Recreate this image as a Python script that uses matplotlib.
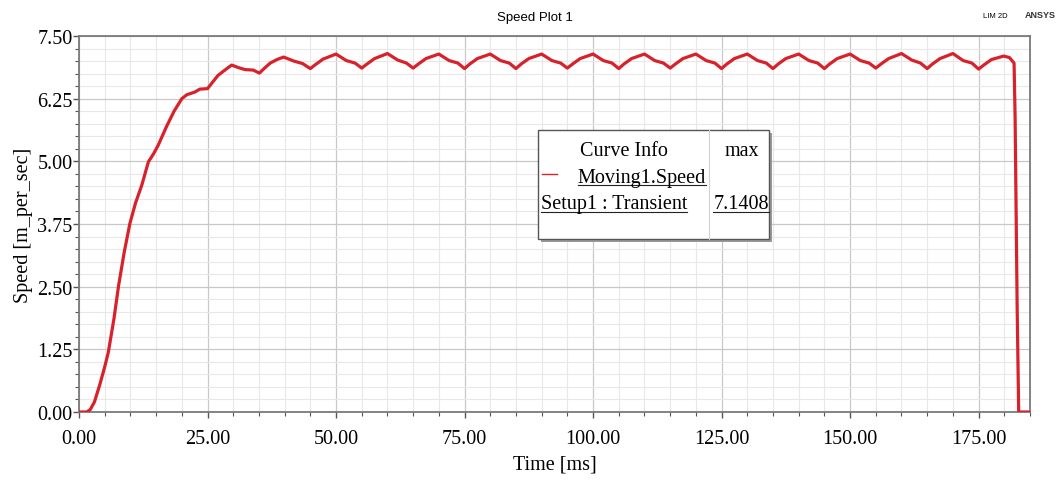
import matplotlib
matplotlib.use("Agg")
import matplotlib.pyplot as plt
from matplotlib.patches import Rectangle
from matplotlib.lines import Line2D
from matplotlib.ticker import MultipleLocator, FixedLocator

# ---- data ----
time_ms = [
    0.0, 1.5, 2.2, 3.0, 4.0, 5.0, 5.7, 6.8, 7.7, 8.8, 9.9, 11.0, 12.2, 13.5,
    14.5, 15.4, 17.1, 18.5, 20.0, 21.0, 22.5, 23.5, 25.0, 27.0, 28.5, 29.7,
    31.0, 32.3, 33.9, 35.1, 36.0, 37.2, 38.5, 39.8,
    41.8, 43.5, 45.0, 46.0, 47.5, 50.0,
    52.0, 53.7, 55.0, 56.0, 57.5, 60.0,
    62.0, 63.7, 65.0, 66.0, 67.5, 70.0,
    72.0, 73.7, 75.0, 76.0, 77.5, 80.0,
    82.0, 83.7, 85.0, 86.0, 87.5, 90.0,
    92.0, 93.7, 95.0, 96.0, 97.5, 100.0,
    102.0, 103.7, 105.0, 106.0, 107.5, 110.0,
    112.0, 113.7, 115.0, 116.0, 117.5, 120.0,
    122.0, 123.7, 125.0, 126.0, 127.5, 130.0,
    132.0, 133.7, 135.0, 136.0, 137.5, 140.0,
    142.0, 143.7, 145.0, 146.0, 147.5, 150.0,
    152.0, 153.7, 155.0, 156.0, 157.5, 160.0,
    162.0, 163.7, 165.0, 166.0, 167.5, 170.0,
    172.0, 173.7, 175.0, 176.0, 177.5, 179.9,
    181.0, 181.9, 182.1, 182.3, 182.5, 182.8, 185.0,
]
speed = [
    0.00, 0.00, 0.05, 0.20, 0.53, 0.90, 1.19, 1.86, 2.52, 3.19, 3.76, 4.17, 4.52, 4.99,
    5.15, 5.32, 5.71, 6.00, 6.25, 6.33, 6.38, 6.44, 6.45, 6.71, 6.83, 6.92,
    6.87, 6.83, 6.82, 6.76, 6.85, 6.96, 7.03, 7.08,
    7.00, 6.95, 6.85, 6.93, 7.04, 7.14,
    7.01, 6.96, 6.86, 6.94, 7.05, 7.15,
    7.02, 6.96, 6.86, 6.94, 7.05, 7.14,
    7.01, 6.96, 6.85, 6.94, 7.05, 7.14,
    7.01, 6.96, 6.85, 6.94, 7.05, 7.14,
    7.01, 6.96, 6.86, 6.94, 7.05, 7.14,
    7.01, 6.96, 6.85, 6.94, 7.05, 7.14,
    7.01, 6.96, 6.86, 6.94, 7.05, 7.14,
    7.01, 6.96, 6.85, 6.94, 7.05, 7.14,
    7.01, 6.96, 6.85, 6.94, 7.05, 7.14,
    7.01, 6.96, 6.85, 6.94, 7.05, 7.14,
    7.01, 6.96, 6.86, 6.94, 7.05, 7.15,
    7.02, 6.96, 6.85, 6.94, 7.05, 7.15,
    7.01, 6.96, 6.84, 6.92, 7.03, 7.10,
    7.07, 6.96, 5.90, 4.00, 2.10, 0.00, 0.00,
]
x_ticks = [0, 25, 50, 75, 100, 125, 150, 175]
x_tick_labels = ["0.00", "25.00", "50.00", "75.00", "100.00", "125.00", "150.00", "175.00"]
y_ticks = [0, 1.25, 2.50, 3.75, 5.00, 6.25, 7.50]
y_tick_labels = ["0.00", "1.25", "2.50", "3.75", "5.00", "6.25", "7.50"]

title = "Speed Plot 1"
x_label = "Time [ms]"
y_label = "Speed [m_per_sec]"
legend_header = ["Curve Info", "max"]
legend_curve = "Moving1.Speed"
legend_setup = "Setup1 : Transient"
legend_max = "7.1408"

# ---- figure ----
W, H = 1063, 481
fig = plt.figure(figsize=(W / 100, H / 100), dpi=100)
L, R, T, B = 79, 1030, 37, 413
ax = fig.add_axes([L / W, (H - B) / H, (R - L) / W, (B - T) / H])

serif = ["Liberation Serif", "DejaVu Serif"]
narrow = ["Liberation Sans Narrow", "Liberation Sans", "DejaVu Sans"]

line_color = "#d8222b"
ax.plot(time_ms, speed, color=line_color, lw=2.3, solid_joinstyle="round", zorder=3)

ax.set_xlim(0, 185)
ax.set_ylim(0, 7.5)
ax.xaxis.set_major_locator(FixedLocator(x_ticks))
ax.set_xticklabels(x_tick_labels)
ax.yaxis.set_major_locator(FixedLocator(y_ticks))
ax.set_yticklabels(y_tick_labels)
ax.xaxis.set_minor_locator(MultipleLocator(5))
ax.yaxis.set_minor_locator(MultipleLocator(0.25))

ax.grid(which="major", color="#c8c8c8", lw=0.9, zorder=0)
ax.grid(which="minor", color="#e8e8e8", lw=0.8, zorder=0)
ax.set_axisbelow(True)

for s in ax.spines.values():
    s.set_color("#7a7a7a")
    s.set_linewidth(1.3)

ax.tick_params(which="major", direction="out", length=4, width=1, color="#555555",
               labelsize=14.5)
ax.tick_params(axis="x", which="major", pad=8)
ax.tick_params(axis="y", which="major", pad=0.5)
ax.tick_params(which="minor", direction="out", length=3, width=0.8, color="#555555")
for lab in ax.get_xticklabels() + ax.get_yticklabels():
    lab.set_family(serif)

ax.set_xlabel(x_label, family=serif, fontsize=14.5, labelpad=5)
ax.set_ylabel(y_label, family=serif, fontsize=14.5, labelpad=3)

fig.text(535 / W, 1 - 18 / H, title, family=narrow, fontsize=9.5, ha="center", va="center")
fig.text(995 / W, 1 - 16 / H, "LIM 2D", family=narrow, fontsize=5.5, ha="center", va="center")
fig.text(1040 / W, 1 - 15 / H, "ANSYS", family=narrow, fontsize=6.5, fontweight="bold",
         ha="center", va="center", color="#333333")

# ---- legend box (Curve Info) ----
def fx(px):
    return px / W

def fy(py):
    return 1 - py / H

bx0, by0, bx1, by1 = 538, 131, 769, 240
fig.patches.append(Rectangle((fx(bx0 + 3), fy(by1 + 3)), fx(bx1 - bx0), (by1 - by0) / H,
                             transform=fig.transFigure, facecolor="#9a9a9a",
                             edgecolor="none", zorder=5))
fig.patches.append(Rectangle((fx(bx0), fy(by1)), fx(bx1 - bx0), (by1 - by0) / H,
                             transform=fig.transFigure, facecolor="white",
                             edgecolor="#555555", lw=1.0, zorder=6))
fig.lines.append(Line2D([fx(709), fx(709)], [fy(by0), fy(by1)], transform=fig.transFigure,
                        color="#d0d0d0", lw=0.8, zorder=7))
fig.lines.append(Line2D([fx(542), fx(557)], [fy(175), fy(175)], transform=fig.transFigure,
                        color=line_color, lw=1.0, zorder=7))

fs = 14.5
fig.text(fx(624), fy(151), legend_header[0], family=serif, fontsize=fs, ha="center",
         va="center", zorder=8)
fig.text(fx(742), fy(151), legend_header[1], family=serif, fontsize=fs, ha="center",
         va="center", zorder=8)
t1 = fig.text(fx(642), fy(178), legend_curve, family=serif, fontsize=fs, ha="center",
              va="center", zorder=8)
t2 = fig.text(fx(614), fy(205), legend_setup, family=serif, fontsize=fs, ha="center",
              va="center", zorder=8)
t3 = fig.text(fx(741), fy(205), legend_max, family=serif, fontsize=fs, ha="center",
              va="center", zorder=8)

# underline texts
fig.canvas.draw()
renderer = fig.canvas.get_renderer()
for t in (t1, t2, t3):
    bb = t.get_window_extent(renderer=renderer)
    yline = bb.y0 + 2
    fig.lines.append(Line2D([bb.x0 / W, bb.x1 / W], [yline / H, yline / H],
                            transform=fig.transFigure, color="#222222", lw=0.8, zorder=8))

fig.savefig("out.png", dpi=100)
